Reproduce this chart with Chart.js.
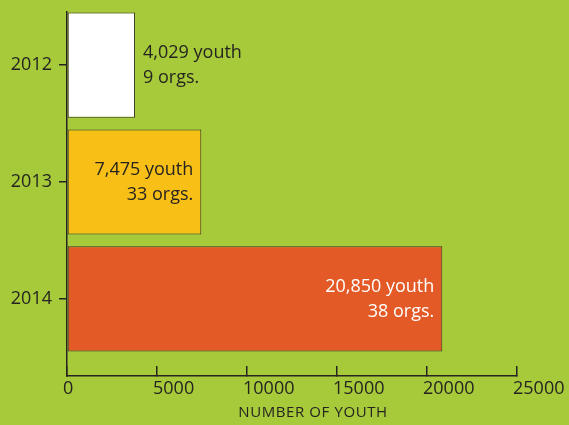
<!DOCTYPE html>
<html><head><meta charset="utf-8">
<script src="https://cdn.jsdelivr.net/npm/chart.js@4/dist/chart.umd.min.js"></script>
<style>html,body{margin:0;padding:0;background:#a6ca3a;}canvas{display:block;}</style>
</head><body><canvas id="c" width="569" height="425"></canvas>
<script>
const years = ['2012', '2013', '2014'];
const youth = [3780, 7460, 20850];
const youthLabels = ['4,029 youth', '7,475 youth', '20,850 youth'];
const orgLabels = ['9 orgs.', '33 orgs.', '38 orgs.'];
const xTickValues = [0, 5000, 10000, 15000, 20000, 25000];
const axisTitle = 'NUMBER OF YOUTH';

const FONT = "'Open Sans', 'DejaVu Sans Condensed', sans-serif";
const DARK = '#262421';
const BG = '#a6ca3a';
const barColors = ['#ffffff', '#f8bf16', '#e35a26'];
const labelColors = [DARK, DARK, '#ffffff'];

Chart.defaults.font.family = FONT;

const bgPlugin = {
  id: 'bg',
  beforeDraw(chart) {
    const ctx = chart.ctx;
    ctx.save();
    ctx.fillStyle = BG;
    ctx.fillRect(0, 0, chart.width, chart.height);
    ctx.restore();
  }
};

const labelPlugin = {
  id: 'barLabels',
  afterDatasetsDraw(chart) {
    const ctx = chart.ctx;
    const meta = chart.getDatasetMeta(0);
    ctx.save();
    ctx.font = '18px ' + FONT;
    ctx.textBaseline = 'middle';
    meta.data.forEach((bar, i) => {
      const lines = [youthLabels[i], orgLabels[i]];
      const w = Math.max(...lines.map(t => ctx.measureText(t).width));
      const barW = bar.x - bar.base;
      let x, align, color;
      if (w + 12 < barW) { x = bar.x - 8; align = 'right'; color = labelColors[i]; }
      else { x = bar.x + 8; align = 'left'; color = DARK; }
      ctx.textAlign = align;
      ctx.fillStyle = color;
      ctx.fillText(lines[0], x, bar.y - 12.5);
      ctx.fillText(lines[1], x, bar.y + 13);
    });
    ctx.restore();
  }
};

const titlePlugin = {
  id: 'xTitle',
  afterDraw(chart) {
    const ctx = chart.ctx;
    ctx.save();
    ctx.font = '15px ' + FONT;
    if ('letterSpacing' in ctx) ctx.letterSpacing = '0.6px';
    ctx.fillStyle = DARK;
    ctx.textAlign = 'center';
    ctx.textBaseline = 'middle';
    ctx.fillText(axisTitle, 313, 413);
    ctx.restore();
  }
};

new Chart(document.getElementById('c'), {
  type: 'bar',
  data: {
    datasets: [{
      data: years.map((y, i) => ({ x: youth[i], y: i })),
      backgroundColor: barColors,
      borderColor: '#3a3628',
      borderWidth: 1,
      borderSkipped: false,
      barPercentage: 0.9,
      categoryPercentage: 1
    }]
  },
  options: {
    indexAxis: 'y',
    responsive: false,
    animation: false,
    devicePixelRatio: 1,
    layout: { padding: { left: 0, top: 12, right: 52, bottom: 0 } },
    plugins: { legend: { display: false }, tooltip: { enabled: false } },
    scales: {
      x: {
        type: 'linear',
        position: 'bottom',
        min: 0,
        max: 25000,
        offset: false,
        afterBuildTicks: s => { s.ticks = xTickValues.map(v => ({ value: v })); },
        afterFit: s => { s.height = 49; s.paddingLeft = 0; s.paddingRight = 0; },
        ticks: {
          color: DARK,
          font: { size: 18 },
          align: 'start',
          labelOffset: -4,
          padding: 12,
          maxRotation: 0,
          autoSkip: false,
          callback: v => String(v)
        },
        grid: { drawOnChartArea: false, offset: false, drawTicks: true, tickLength: -10, color: DARK, lineWidth: 1.5 },
        border: { display: true, color: DARK, width: 1.5 }
      },
      y: {
        type: 'linear',
        position: 'left',
        reverse: true,
        offset: false,
        min: -0.455,
        max: 2.66,
        afterBuildTicks: s => { s.ticks = years.map((_, i) => ({ value: i })); },
        afterFit: s => { s.width = 67; s.paddingTop = 0; s.paddingBottom = 0; },
        ticks: {
          color: DARK,
          font: { size: 18 },
          padding: 7,
          autoSkip: false,
          callback: v => years[v]
        },
        grid: { drawOnChartArea: false, offset: false, drawTicks: true, tickLength: 8, color: DARK, lineWidth: 1.5 },
        border: { display: true, color: DARK, width: 1.5 }
      }
    }
  },
  plugins: [bgPlugin, labelPlugin, titlePlugin]
});
</script>
</body></html>
